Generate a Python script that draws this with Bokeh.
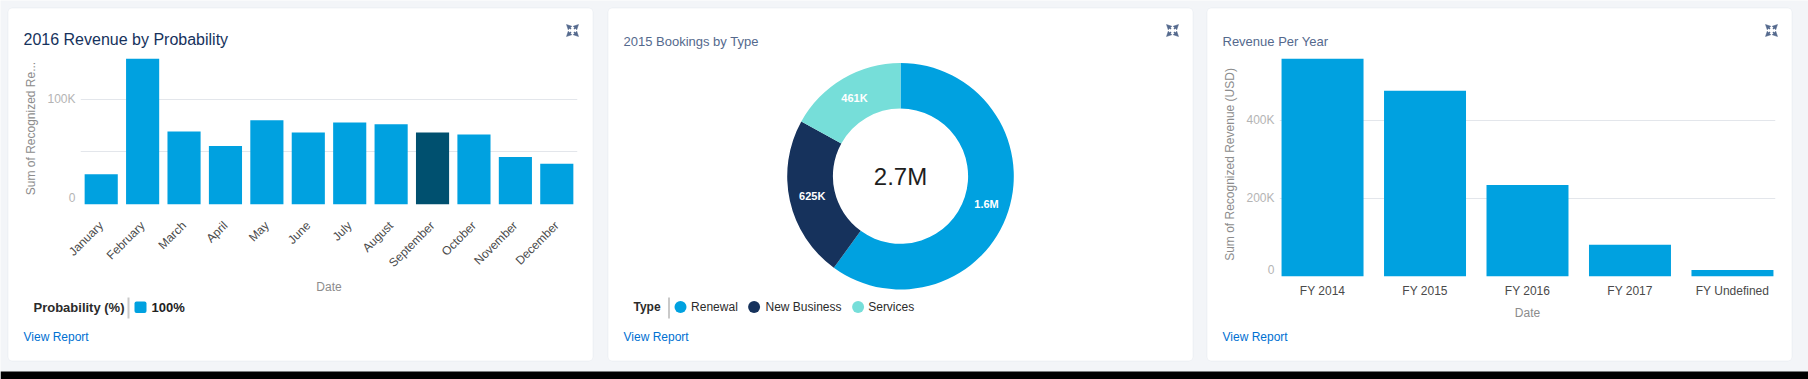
import math
from bokeh.plotting import figure
from bokeh.models import (ColumnDataSource, Range1d, FixedTicker, Label,
                          BoxAnnotation, Arrow, NormalHead)
from bokeh.embed import file_html
from bokeh.resources import INLINE
from bokeh.core.properties import value

# ---------------- data ----------------
chart1_title = "2016 Revenue by Probability"
months = ["January", "February", "March", "April", "May", "June", "July",
          "August", "September", "October", "November", "December"]
revenue_by_month = [28800, 138300, 69300, 55600, 80000, 68400, 77900,
                    76300, 68400, 66500, 45000, 38600]
highlighted_month = "September"
chart1_ticks = [0, 50000, 100000]
chart1_labeled_ticks = [0, 100000]
chart1_y_title = "Sum of Recognized Re..."
chart1_legend_title = "Probability (%)"
chart1_legend_items = ["100%"]

chart2_title = "2015 Bookings by Type"
booking_types = ["Renewal", "New Business", "Services"]
booking_values = [1630000, 625000, 461000]
chart2_legend_title = "Type"

chart3_title = "Revenue Per Year"
fiscal_years = ["FY 2014", "FY 2015", "FY 2016", "FY 2017", "FY Undefined"]
revenue_by_year = [557500, 475500, 234000, 81200, 16400]
chart3_ticks = [0, 200000, 400000]
chart3_labeled_ticks = [0, 200000, 400000]
chart3_y_title = "Sum of Recognized Revenue (USD)"

x_title = "Date"
link_text = "View Report"

# ---------------- style / layout ----------------
PAGE_W, PAGE_H = 1808, 379
W, H = 586, 354
CARD_X = [7, 607, 1206]
CARD_Y = 7
FONT = "Liberation Sans"
BG = "#f3f5f8"
BORDER = "#d8dde6"
BLUE = "#00a1e0"
DARK = "#00506f"
NAVY = "#16325c"
TEAL = "#76ded9"
booking_colors = [BLUE, NAVY, TEAL]
ICON = "#54698d"
LINK = "#0070d2"
GRID = "#e3e6eb"
TICK_Y = "#b4b4b4"
TICK_X = "#4a4a4a"
AXIS_T = "#8c8c8c"
LEG_T = "#2b2b2b"
FRAME1 = (73, 570, 45, 197)
FRAME3 = (73, 569, 45, 269)


def fmt(v):
    if v >= 1e6:
        return f"{v / 1e6:.1f}M"
    if v >= 1e3:
        return f"{v / 1e3:.0f}K"
    return f"{v:.0f}"


def abs_style(x, y, z):
    return {"position": "absolute", "left": f"{x}px", "top": f"{y}px",
            "z-index": str(z)}


# ---------------- background figure (page, cards, texts) ----------------
bg = figure(width=PAGE_W, height=PAGE_H, x_range=Range1d(0, PAGE_W),
            y_range=Range1d(PAGE_H, 0), output_backend="svg",
            toolbar_location=None, tools="", min_border=0,
            x_axis_location=None, y_axis_location=None,
            background_fill_color=BG, border_fill_color=BG)
bg.outline_line_color = None
bg.grid.visible = False
bg.styles = abs_style(0, 0, 0)

for ox in CARD_X:
    bg.add_layout(BoxAnnotation(left=ox + 0.5, right=ox + W - 0.5,
                                top=CARD_Y + 0.5, bottom=CARD_Y + H - 0.5,
                                fill_color="white", fill_alpha=1.0,
                                line_color=BORDER, line_width=1,
                                border_radius=4, level="underlay"))
bg.add_layout(BoxAnnotation(left=0, right=PAGE_W, top=371, bottom=PAGE_H,
                            fill_color="#000000", fill_alpha=1.0, line_color=None,
                            level="underlay"))


def lab(text, x, y, size, color, bold=False, align="left", baseline="middle"):
    bg.add_layout(Label(x=x, y=y, text=text, text_font=FONT,
                        text_font_size=f"{size}px", text_color=color,
                        text_font_style="bold" if bold else "normal",
                        text_align=align, text_baseline=baseline))


def box(left, right, top, bottom, color, radius=0):
    bg.add_layout(BoxAnnotation(left=left, right=right, top=top, bottom=bottom,
                                fill_color=color, fill_alpha=1.0, line_color=None,
                                border_radius=radius))


def card_decor(ox, title, tsize, tcolor, tbase):
    lab(title, ox + 16, CARD_Y + tbase, tsize, tcolor, baseline="alphabetic")
    cx, cy = ox + 565, CARD_Y + 23
    for dx, dy in [(-1, -1), (1, -1), (-1, 1), (1, 1)]:
        bg.add_layout(Arrow(x_start=cx + 1.5 * dx, y_start=cy + 1.5 * dy,
                            x_end=cx + 6 * dx, y_end=cy + 6 * dy,
                            line_color=ICON, line_width=1.5,
                            end=NormalHead(size=5, fill_color=ICON, line_color=ICON,
                                           line_width=0.5)))
    lab(link_text, ox + 16, CARD_Y + 329, 12, LINK)


card_decor(CARD_X[0], chart1_title, 16, NAVY, 32)
card_decor(CARD_X[1], chart2_title, 13, ICON, 33.7)
card_decor(CARD_X[2], chart3_title, 13, ICON, 33.7)

# legend card 1
LY = CARD_Y + 299.5
ox = CARD_X[0]
lab(chart1_legend_title, ox + 26, LY, 13, LEG_T, bold=True)
box(ox + 120, ox + 122, CARD_Y + 290, CARD_Y + 311, "#c9c9c9")
box(ox + 127, ox + 139, CARD_Y + 294, CARD_Y + 305.5, BLUE, radius=2)
lab(chart1_legend_items[0], ox + 144, LY, 13, "#222222", bold=True)

# legend card 2
ox = CARD_X[1]
lab(chart2_legend_title, ox + 26, LY, 12, LEG_T, bold=True)
box(ox + 60.5, ox + 62.5, CARD_Y + 290, CARD_Y + 311, "#c9c9c9")
dot_x = [ox + 73, ox + 146.6, ox + 250.6]
text_x = [ox + 83.6, ox + 158, ox + 260.7]
bg.scatter(x=dot_x, y=[LY] * 3, size=12, marker="circle", color=booking_colors,
           line_color=None)
for name, tx in zip(booking_types, text_x):
    lab(name, tx, LY, 12, LEG_T)


# ---------------- bar chart cards ----------------
def bar_card(ox, cats, vals, colors, ticks, labeled, y_end, y_title, frame, pad,
             orient, x_standoff, xl_standoff):
    l, r, t, b = frame
    n = len(cats)
    pos = [i + 0.5 for i in range(n)]
    p = figure(width=W, height=H, x_range=Range1d(pad, n - pad),
               y_range=Range1d(0, y_end), output_backend="svg",
               toolbar_location=None, tools="",
               min_border_left=l, min_border_right=W - r,
               min_border_top=t, min_border_bottom=H - b,
               background_fill_color=None, border_fill_color=None)
    p.outline_line_color = None
    p.styles = abs_style(ox, CARD_Y, 1)
    src = ColumnDataSource(dict(x=pos, cat=cats, val=vals, color=colors))
    p.vbar(x="x", top="val", width=0.8, source=src, fill_color="color",
           line_color=None)
    p.xgrid.visible = False
    p.ygrid.grid_line_color = GRID
    p.ygrid.grid_line_width = 1

    ya = p.yaxis[0]
    ya.ticker = FixedTicker(ticks=ticks)
    ya.major_label_overrides = {t_: (fmt(t_) if (t_ in labeled and t_ != 0) else "")
                                for t_ in ticks}
    ya.axis_line_color = None
    ya.major_tick_line_color = None
    ya.minor_tick_line_color = None
    ya.major_tick_out = 0
    ya.major_label_standoff = 5
    ya.major_label_text_font = FONT
    ya.major_label_text_font_size = "12px"
    ya.major_label_text_color = TICK_Y
    ya.axis_label = y_title
    ya.axis_label_text_font = FONT
    ya.axis_label_text_font_size = "12px"
    ya.axis_label_text_font_style = "normal"
    ya.axis_label_text_color = AXIS_T
    ya.axis_label_standoff = 6

    xa = p.xaxis[0]
    xa.ticker = FixedTicker(ticks=pos)
    xa.major_label_overrides = {x_: c for x_, c in zip(pos, cats)}
    xa.axis_line_color = None
    xa.major_tick_line_color = None
    xa.minor_tick_line_color = None
    xa.major_tick_out = 0
    xa.major_label_standoff = x_standoff
    xa.major_label_orientation = orient
    xa.major_label_text_font = FONT
    xa.major_label_text_font_size = "12px"
    xa.major_label_text_color = TICK_X
    xa.axis_label = x_title
    xa.axis_label_text_font = FONT
    xa.axis_label_text_font_size = "12px"
    xa.axis_label_text_font_style = "normal"
    xa.axis_label_text_color = AXIS_T
    xa.axis_label_standoff = xl_standoff

    if 0 in labeled:
        # the zero label sits just above the baseline, as in the original
        lab(fmt(0), ox + l - 5, CARD_Y + b - 7, 12, TICK_Y, align="right")
    return p


colors1 = [DARK if m == highlighted_month else BLUE for m in months]
p1 = bar_card(CARD_X[0], months, revenue_by_month, colors1, chart1_ticks,
              chart1_labeled_ticks, 144300, chart1_y_title, FRAME1, 0.0,
              math.pi / 4, 19, 2)
p3 = bar_card(CARD_X[2], fiscal_years, revenue_by_year, [BLUE] * len(fiscal_years),
              chart3_ticks, chart3_labeled_ticks, 573600, chart3_y_title, FRAME3,
              0.08, "horizontal", 7, 5)

# ---------------- donut card ----------------
cx_loc, cy_loc = 293, 168.7
p2 = figure(width=W, height=H, x_range=Range1d(-cx_loc, W - cx_loc),
            y_range=Range1d(-(H - cy_loc), cy_loc), output_backend="svg",
            toolbar_location=None, tools="", min_border=0,
            x_axis_location=None, y_axis_location=None,
            background_fill_color=None, border_fill_color=None)
p2.outline_line_color = None
p2.grid.visible = False
p2.styles = abs_style(CARD_X[1], CARD_Y, 1)
total = sum(booking_values)
starts, ends, mids = [], [], []
cum = 0
for v in booking_values:
    a0 = math.pi / 2 - 2 * math.pi * (cum + v) / total
    a1 = math.pi / 2 - 2 * math.pi * cum / total
    starts.append(a0)
    ends.append(a1)
    mids.append((a0 + a1) / 2)
    cum += v
r_in, r_out = 67.6, 113.3
r_mid = (r_in + r_out) / 2
src2 = ColumnDataSource(dict(start=starts, end=ends, color=booking_colors,
                             lx=[r_mid * math.cos(m) for m in mids],
                             ly=[r_mid * math.sin(m) for m in mids],
                             lt=[fmt(v) for v in booking_values]))
p2.annular_wedge(x=0, y=0, inner_radius=r_in, outer_radius=r_out,
                 start_angle="start", end_angle="end", fill_color="color",
                 line_color=None, source=src2)
p2.text(x="lx", y="ly", text="lt", source=src2, text_font=value(FONT),
        text_font_size="11px", text_font_style="bold", text_color="white",
        text_align="center", text_baseline="middle")
p2.text(x=[0], y=[0], text=[fmt(total)], text_font=value(FONT),
        text_font_size="24px", text_color="#1e1e1e", text_align="center",
        text_baseline="middle")

open("out.html", "w").write(file_html([bg, p1, p2, p3], INLINE))
